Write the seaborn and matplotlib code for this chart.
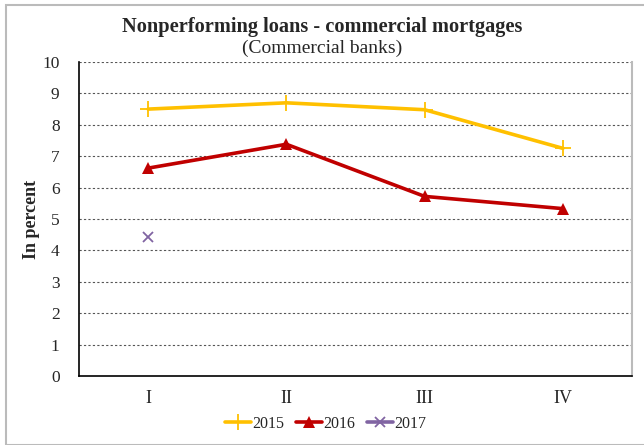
import matplotlib
matplotlib.use("Agg")
import matplotlib.pyplot as plt
import seaborn as sns
import pandas as pd
from matplotlib.patches import Rectangle

quarters = ["I", "II", "III", "IV"]
vals_2015 = [8.5, 8.7, 8.48, 7.25]
vals_2016 = [6.62, 7.38, 5.72, 5.33]
vals_2017 = [4.42, None, None, None]
series_names = ["2015", "2016", "2017"]
colors = ["#FFC000", "#C00000", "#8064A2"]
y_ticks = list(range(0, 11))

sns.set_theme(style="white")
plt.rcParams["font.family"] = ["Liberation Serif", "DejaVu Serif"]

fig = plt.figure(figsize=(6.44, 4.45), dpi=100)
ax = fig.add_axes([79 / 644, 1 - 376 / 445, (632 - 79) / 644, (376 - 62) / 445])

rows = []
for name, vals in zip(series_names, [vals_2015, vals_2016, vals_2017]):
    for i, v in enumerate(vals):
        if v is not None:
            rows.append({"pos": i, "value": v, "series": name})
df = pd.DataFrame(rows)

styles = {
    "2015": dict(marker="+", markersize=12, mew=1.3, lw=2.6),
    "2016": dict(marker="^", markersize=9, mew=0, lw=2.6),
    "2017": dict(marker="x", markersize=6.5, mew=1.3, lw=2.6),
}
for name, color in zip(series_names, colors):
    sub = df[df["series"] == name]
    sns.lineplot(data=sub, x="pos", y="value", ax=ax, color=color,
                 label=name, markeredgecolor=color, **styles[name])

ax.set_xlim(-0.5, 3.5)
ax.set_ylim(0, 10)
ax.set_yticks(y_ticks)
ax.set_yticklabels([str(t) for t in y_ticks], fontsize=12.5)
ax.set_xticks(range(len(quarters)))
ax.set_xticklabels(quarters, fontsize=13)
ax.tick_params(axis="x", length=0, pad=10)
ax.set_xticks([-0.5, 0.5, 1.5, 2.5, 3.5], minor=True)
ax.tick_params(axis="x", which="minor", length=4, color="#888888", width=0.8)
ax.tick_params(axis="y", length=5, color="#888888", width=0.8, pad=9)
ax.set_xlabel("")
ax.set_ylabel("In percent", fontsize=13, fontweight="bold")
ax.yaxis.set_label_coords(-0.07, 0.5)

for t in y_ticks[1:]:
    ax.axhline(t, color="#555555", lw=0.8, ls=(0, (2, 2)), zorder=0)

for side in ["left", "bottom"]:
    ax.spines[side].set_color("black")
    ax.spines[side].set_linewidth(1.2)
ax.spines["top"].set_visible(False)
ax.spines["right"].set_color("#BBBBBB")
ax.spines["right"].set_linewidth(1.5)

fig.text(0.5, 1 - 27 / 445, "Nonperforming loans - commercial mortgages",
         ha="center", va="center", fontsize=14.7, fontweight="bold")
fig.text(0.5, 1 - 48 / 445, "(Commercial banks)", ha="center", va="center",
         fontsize=14)

leg = ax.legend(loc="center", bbox_to_anchor=(326 / 644, 1 - 424 / 445),
                bbox_transform=fig.transFigure, ncol=3, frameon=False,
                fontsize=11.5, handlelength=1.6, handletextpad=0.1,
                columnspacing=0.75)

fig.patches.append(Rectangle((6 / 644, 0), 1.0, 1 - 5 / 445, transform=fig.transFigure,
                             fill=False, edgecolor="#BBBBBB", lw=1.5, zorder=-1))

fig.savefig("out.png", dpi=100)
